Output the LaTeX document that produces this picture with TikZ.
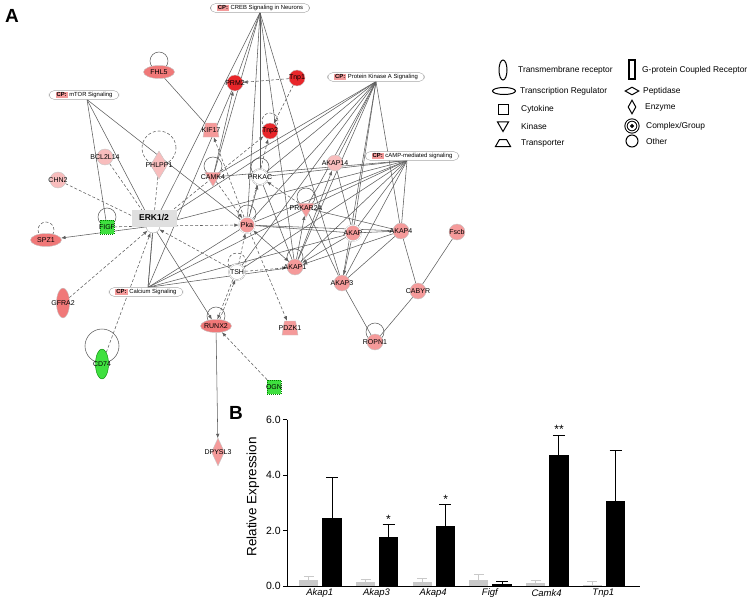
\documentclass[tikz,border=0pt]{standalone}
\usepackage{fontspec}
\setmainfont{Liberation Sans}
\usetikzlibrary{shapes.geometric,arrows.meta,backgrounds}

\definecolor{genepink}{HTML}{F59A9A}
\definecolor{genelight}{HTML}{F8BDBD}
\definecolor{genemid}{HTML}{F07878}
\definecolor{genered}{HTML}{E8262A}
\definecolor{genegreen}{HTML}{3FE03F}
\definecolor{cppink}{HTML}{F49A9A}
\definecolor{edgegrey}{HTML}{5E5E5E}
\definecolor{bargrey}{HTML}{C9C9C9}

\newcommand{\genefont}{\fontsize{7}{7.5}\selectfont}
\newcommand{\cpfont}{\fontsize{5.9}{6.5}\selectfont}
\newcommand{\legfont}{\fontsize{8.4}{10}\selectfont}
\newcommand{\tickfont}{\fontsize{10.5}{12}\selectfont}
\newcommand{\cptag}{{\setlength{\fboxsep}{1pt}\colorbox{cppink}{\textbf{CP:}}}}

\begin{document}
\begin{tikzpicture}[x=1pt, y=-1pt,
  every label/.style={font=\genefont, inner sep=0pt, text=black},
  gene/.style={circle, draw=gray!45, fill=genepink, minimum size=16pt, inner sep=0pt},
  genecx/.style={gene, double=white, double distance=0.6pt},
  generg/.style={gene, ellipse, minimum width=31pt, minimum height=13pt},
  genetm/.style={gene, ellipse, minimum width=13pt, minimum height=30pt},
  genecy/.style={gene, rectangle, minimum size=14pt, fill=genegreen, draw=green!50!black, dash pattern=on 1pt off 1pt},
  geneen/.style={gene, diamond, minimum width=17pt, minimum height=28pt},
  geneki/.style={gene, regular polygon, regular polygon sides=3, shape border rotate=180, minimum size=19pt},
  genetr/.style={gene, trapezium, trapezium left angle=78, trapezium right angle=78, trapezium stretches, inner sep=1pt, minimum width=16pt, minimum height=14pt},
  cpbox/.style={rectangle, rounded corners=5pt, draw=gray!70, fill=white, font=\cpfont, inner xsep=6.5pt, inner ysep=1.2pt},
  rel/.style={draw=edgegrey, line width=0.55pt},
  relarr/.style={rel, -{Latex[length=4.5pt,width=3.5pt]}},
  relboth/.style={rel, {Latex[length=4.5pt,width=3.5pt]}-{Latex[length=4.5pt,width=3.5pt]}},
  ind/.style={rel, dash pattern=on 3pt off 2pt},
  indarr/.style={ind, -{Latex[length=4.5pt,width=3.5pt]}},
  legshape/.style={draw=black, line width=1pt, inner sep=0pt, fill=white},
  legtext/.style={anchor=west, font=\legfont, inner sep=0pt},
  axis/.style={draw=black, line width=0.8pt}
  ]
\useasboundingbox (0,0) rectangle (750,602);

\node[font=\fontsize{19}{20}\selectfont\bfseries] (labA) at (12,16) {A};

% canonical pathways
\node[cpbox] (creb) at (260,8) {\cptag\ CREB Signaling in Neurons};
\node[cpbox] (pkasig) at (376,77) {\cptag\ Protein Kinase A Signaling};
\node[cpbox] (mtor) at (84,95) {\cptag\ mTOR Signaling};
\node[cpbox] (camp) at (412,156) {\cptag\ cAMP-mediated signaling};
\node[cpbox] (calc) at (146,292) {\cptag\ Calcium Signaling};

% molecules
\node[generg, fill=genemid, label=center:FHL5] (fhl5) at (159,72) {};
\node[gene, fill=genered, label=center:PRM2] (prm2) at (235,83) {};
\node[gene, fill=genered, label=center:Tnp1] (tnp1) at (297,78) {};
\node[gene, fill=genered, label=center:Tnp2] (tnp2) at (270,131) {};
\node[genetr, label=center:KIF17] (kif17) at (211,130) {};
\node[geneen, fill=genelight, label=center:PHLPP1] (phlpp1) at (159,165) {};
\node[gene, fill=genelight, label=center:BCL2L14] (bcl) at (105,157) {};
\node[gene, fill=genelight, label=center:CHN2] (chn2) at (58,180) {};
\node[geneki, label=center:CAMK4] (camk4) at (213,177) {};
\node[genecx, fill=white, draw=gray!70, label=center:PRKAC] (prkac) at (260,177) {};
\node[gene, fill=genelight, label=center:AKAP14] (akap14) at (335,163) {};
\node[genecy, label=center:FIGF] (figf) at (107,227) {};
\node[generg, fill=genemid, label=center:SPZ1] (spz1) at (46,240) {};
\node[genecx, label=center:Pka] (pka) at (247,225) {};
\node[geneki, label=center:PRKAR2A] (prkar2a) at (306,208) {};
\node[genecx, label=center:AKAP] (akap) at (353,233) {};
\node[gene, label=center:AKAP4] (akap4) at (401,231) {};
\node[gene, label=center:Fscb] (fscb) at (457,232) {};
\node[gene, label=center:AKAP1] (akap1) at (295,267) {};
\node[genecx, fill=white, draw=gray!70, label=center:TSH] (tsh) at (237,272) {};
\node[gene, label=center:AKAP3] (akap3) at (342,283) {};
\node[gene, label=center:CABYR] (cabyr) at (418,291) {};
\node[genetm, fill=genemid, label=center:GFRA2] (gfra2) at (63,303) {};
\node[generg, fill=genemid, label=center:RUNX2] (runx2) at (216,326) {};
\node[genetr, label=center:PDZK1] (pdzk1) at (290,328) {};
\node[gene, label=center:ROPN1] (ropn1) at (375,342) {};
\node[genetm, fill=genegreen, draw=green!50!black, label=center:CD74] (cd74) at (102,364) {};
\node[genecy, label=center:OGN] (ogn) at (274,387) {};
\node[geneen, minimum width=13pt, label=center:DPYSL3] (dpysl3) at (218,452) {};
\node[circle, draw=gray!70, fill=white, minimum size=14pt] (erkc) at (153,226) {};
\node[rectangle, fill=gray!25, minimum width=45pt, minimum height=17pt, font=\fontsize{8.5}{9}\selectfont\bfseries] (erk) at (154,218) {ERK1/2};

\begin{pgfonlayer}{background}
  %hubs
  \foreach \t in {erkc,camk4,prm2,prkac,pka,akap1,akap3}
    \draw[rel] (creb.south) -- (\t);
  \foreach \t in {erkc,camk4,prkac,pka,akap14,prkar2a,akap1,akap,akap3,akap4,tsh}
    \draw[rel] (pkasig.south) -- (\t);
  \foreach \t in {erkc,camk4,prkac,pka,prkar2a,akap1,akap,akap3,akap4,tsh}
    \draw[rel] ([xshift=-5pt]camp.south) -- (\t);
  \foreach \t in {figf,erkc,pka}
    \draw[rel] ([xshift=3pt]mtor.south) -- (\t);
  \foreach \t in {erk,erkc,prm2,pka,prkar2a,akap,akap1}
    \draw[rel] ([xshift=2pt]calc.north) -- (\t);
  %indirect
  \draw[indarr] (tnp1) -- (prm2);
  \draw[indarr] (tnp1) -- (tnp2);
  \draw[indarr] (erkc) -- (tnp2);
  \draw[indarr] (pka) -- (tnp2);
  \draw[indarr] (pka) -- (kif17);
  \draw[indarr] (camk4) -- (pka);
  \draw[indarr] (phlpp1) -- (erkc);
  \draw[indarr] (bcl) -- (erkc);
  \draw[indarr] (chn2) -- (erkc);
  \draw[ind] (figf) -- (erkc);
  \draw[indarr] (gfra2) -- (erkc);
  \draw[indarr] (cd74) -- (erkc);
  \draw[indarr] (tsh) -- (erkc);
  \draw[indarr] (erkc) -- (pka);
  \draw[indarr] (prkar2a) -- (prkac);
  \draw[indarr] (tsh) -- (akap1);
  \draw[indarr] (tsh) -- (pka);
  \draw[indarr, transform canvas={xshift=-1.2pt}] (tsh) -- (runx2);
  \draw[indarr, transform canvas={xshift=1.2pt}] (runx2) -- (tsh);
  \draw[indarr] (pka) -- (pdzk1);
  \draw[indarr] (ogn) -- (runx2);
  %direct
  \draw[relarr] (camk4) -- (prm2);
  \draw[relarr] (erkc) -- (spz1);
  \draw[relarr] (erkc) -- (runx2);
  \draw[relarr] (pka) -- (prkac);
  \draw[relboth] (pka) -- (akap1);
  \draw[relarr] (akap1) -- (prkar2a);
  \draw[relarr] (akap) -- (akap1);
  \draw[relarr] (akap4) -- (akap1);
  \draw[relarr] (akap) -- (akap3);
  \draw[relarr] (akap1) -- (akap14);
  \draw[relarr] (runx2) -- (dpysl3);
  \draw[rel] (fhl5) -- (kif17);
  \draw[rel] (pka) -- (akap);
  \draw[rel] (pka) -- (akap4);
  \draw[rel] (prkar2a) -- (akap4);
  \draw[rel] (prkar2a) -- (akap3);
  \draw[rel] (akap) -- (akap4);
  \draw[rel] (akap14) -- (akap);
  \draw[rel] (akap4) -- (akap3);
  \draw[rel] (prkac) -- (akap1);
  \draw[rel] (akap3) -- (ropn1);
  \draw[rel] (ropn1) -- (cabyr);
  \draw[rel] (cabyr) -- (fscb);
  \draw[rel] (cabyr) -- (akap4);
  %self loops
  \draw[rel] (159,61) circle (9pt);
  \draw[ind] (159,148) circle (17pt);
  \draw[ind] (270,121) circle (8pt);
  \draw[rel] (213,166) circle (9pt);
  \draw[rel] (260,167) circle (9pt);
  \draw[rel] (107,217) circle (9pt);
  \draw[ind] (46,230) circle (8pt);
  \draw[rel] (247,214) circle (9pt);
  \draw[rel] (306,197) circle (9pt);
  \draw[rel] (295,257) circle (8pt);
  \draw[ind] (237,262) circle (9pt);
  \draw[rel] (216,316) circle (9pt);
  \draw[rel] (375,332) circle (9pt);
  \draw[rel] (102,346) circle (17pt);
\end{pgfonlayer}

% legend
\node[legshape, ellipse, minimum width=8pt, minimum height=20pt] (lg1) at (503,70) {};
\node[legtext] (lt1) at (518,70) {Transmembrane receptor};
\node[legshape, ellipse, minimum width=23pt, minimum height=7pt] (lg2) at (504,91) {};
\node[legtext] (lt2) at (520,91) {Transcription Regulator};
\node[legshape, rectangle, minimum size=10pt] (lg3) at (503,109) {};
\node[legtext] (lt3) at (521,109) {Cytokine};
\node[legshape, regular polygon, regular polygon sides=3, shape border rotate=180, minimum size=13pt] (lg4) at (503,125) {};
\node[legtext] (lt4) at (521,126) {Kinase};
\node[legshape, trapezium, inner sep=0.5pt, minimum width=13pt, minimum height=7pt] (lg5) at (503,143) {};
\node[legtext] (lt5) at (521,143) {Transporter};
\node[legshape, rectangle, line width=2pt, minimum width=6pt, minimum height=19pt] (lg6) at (632,70) {};
\node[legtext] (lt6) at (642,70) {G-protein Coupled Receptor};
\node[legshape, diamond, minimum width=14pt, minimum height=8pt] (lg7) at (632,91) {};
\node[legtext] (lt7) at (643,91) {Peptidase};
\node[legshape, diamond, minimum width=8pt, minimum height=14pt] (lg8) at (632,107) {};
\node[legtext] (lt8) at (645,107) {Enzyme};
\node[legshape, circle, minimum size=12pt, line width=1pt, double=white, double distance=1.2pt] (lg9) at (632,126) {};
\node[legshape, circle, fill=black, minimum size=3pt] (lg9c) at (632,126) {};
\node[legtext] (lt9) at (646,126) {Complex/Group};
\node[legshape, circle, minimum size=12pt] (lg10) at (632,141) {};
\node[legtext] (lt10) at (646,141) {Other};

% panel B
\node[font=\fontsize{19}{20}\selectfont\bfseries] (labB) at (236,413) {B};
\draw[axis] (287,419.5) -- (287,586) -- (640,586);
\foreach \v in {0,2,4,6}
  \draw[axis] (287,{586-27.75*\v}) -- ++(-4,0) node[left, font=\tickfont, inner sep=2pt] (tick\v) {\v.0};
\node[rotate=90, font=\fontsize{13.5}{15}\selectfont] (ylab) at (253,497) {Relative Expression};
\foreach \i/\g/\ge/\b/\be/\lab in {0/0.22/0.34/2.44/3.91/Akap1, 1/0.14/0.24/1.78/2.21/Akap3, 2/0.14/0.28/2.18/2.93/Akap4, 3/0.22/0.42/0.07/0.17/Figf, 4/0.12/0.19/4.73/5.44/Camk4, 5/0.05/0.18/3.06/4.88/Tnp1}{
  \pgfmathsetmacro{\xg}{308.8+56.7*\i}
  \pgfmathsetmacro{\xb}{\xg+23.2}
  \draw[bargrey, line width=1pt] (\xg,{586-27.75*\g}) -- (\xg,{586-27.75*\ge}) ++(-5,0) -- ++(10,0);
  \draw[black, line width=1pt] (\xb,{586-27.75*\b}) -- (\xb,{586-27.75*\be}) ++(-6,0) -- ++(12,0);
  \fill[bargrey] ({\xg-9.5},586) rectangle ({\xg+9.5},{586-27.75*\g});
  \fill[black] ({\xb-9.7},586) rectangle ({\xb+9.7},{586-27.75*\b});
  \node[font=\fontsize{9.5}{10}\selectfont\itshape] (lab\i) at ({\xg+11},593) {\lab};
}
\node[anchor=south, font=\fontsize{12}{12}\selectfont, inner sep=0pt] (star1) at (388.5,{586-27.75*2.21-1}) {*};
\node[anchor=south, font=\fontsize{12}{12}\selectfont, inner sep=0pt] (star2) at (445.6,{586-27.75*2.93-1}) {*};
\node[anchor=south, font=\fontsize{12}{12}\selectfont, inner sep=0pt] (star3) at (559,{586-27.75*5.44-1}) {**};
\end{tikzpicture}
\end{document}
